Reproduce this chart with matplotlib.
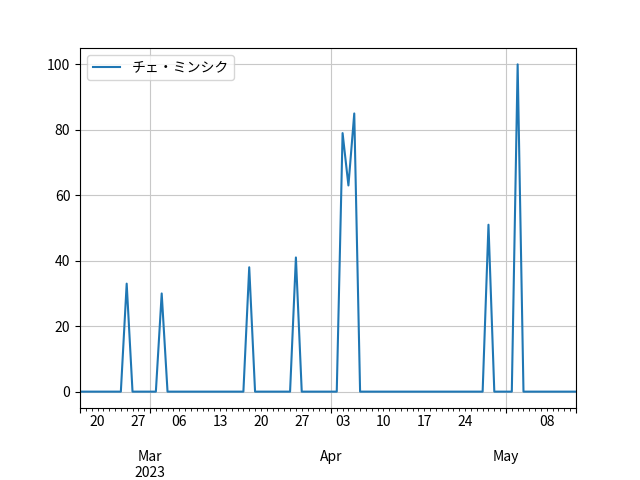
import pandas as pd
import matplotlib
matplotlib.use("Agg")
from matplotlib import pyplot as plt

plt.rcParams['font.family'] = ['Noto Sans CJK JP', 'DejaVu Sans']

start_date = "2023-02-17"
end_date = "2023-05-13"
series_name = "チェ・ミンシク"

# days with non-zero values, everything else is 0
peak_dates = ["2023-02-25", "2023-03-03", "2023-03-18", "2023-03-26",
              "2023-04-03", "2023-04-04", "2023-04-05", "2023-04-28", "2023-05-03"]
peak_values = [33, 30, 38, 41, 79, 63, 85, 51, 100]

dates = pd.date_range(start_date, end_date, freq='D')
data = pd.DataFrame({series_name: 0}, index=dates)
for d, v in zip(peak_dates, peak_values):
	data.loc[pd.Timestamp(d), series_name] = v

fig, ax = plt.subplots(figsize=(6.4, 4.8), dpi=100)
data.plot(ax=ax, grid=True)
ax.grid(True, color='#c8c8c8')
ax.legend(loc='upper left')
fig.subplots_adjust(left=0.125, right=0.9, top=0.9, bottom=0.15)
plt.savefig("out.png")
